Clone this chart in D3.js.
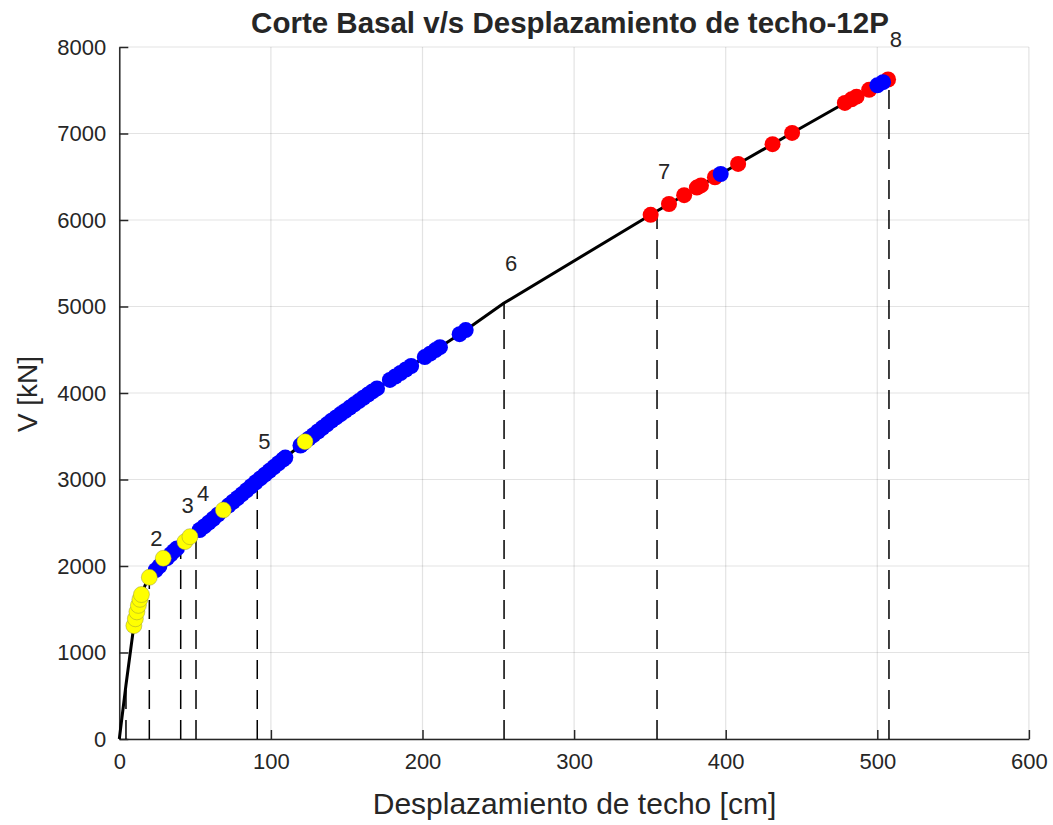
<!DOCTYPE html>
<html>
<head>
<meta charset="utf-8">
<script src="https://cdn.jsdelivr.net/npm/d3@7/dist/d3.min.js"></script>
<style>
  html, body { margin: 0; padding: 0; background: #ffffff; }
  svg text { font-family: "Liberation Sans", Arial, Helvetica, sans-serif; fill: #262626; }
</style>
</head>
<body>
<svg id="chart" width="1053" height="825"></svg>
<script>
// Pushover curve: roof displacement [cm] vs base shear [kN]
const curveX = [0, 4.4, 9.4, 11, 13, 15, 17.1, 19.8, 25, 30, 35, 40.5, 50.6, 60, 68.4, 80, 91, 100, 110, 122.5, 140, 165.4, 180, 200, 226.7, 253.8, 354.7, 383, 408, 443.7, 478.6, 507.7];
const curveV = [0, 624, 1283, 1420, 1570, 1690, 1780, 1867, 1972, 2062, 2155, 2243, 2382, 2515, 2647, 2815, 2983, 3115, 3260, 3437, 3680, 4000, 4168, 4398, 4705, 5040, 6104, 6393, 6647, 7006, 7353, 7630];

// Hinge states recorded along the curve
const yellowX = [9.6, 10.6, 11.6, 12.6, 13.6, 14.6, 19.8, 29.0, 43.3, 46.6, 68.6, 122.5];
const yellowV = [1310, 1390, 1470, 1545, 1615, 1670, 1869, 2089, 2281, 2339, 2647, 3437];

const blueX = [24, 26.5, 31.5, 34, 36, 38, 53, 56, 59, 62, 65, 72, 75, 78, 81, 84, 87, 90, 93, 96, 99, 102, 105, 108, 109.5,
               119.5, 121, 125, 128, 131, 134, 137, 140, 143, 146, 149, 152, 155, 158, 161, 164, 167, 170,
               178.5, 182, 185.5, 189, 192.5, 201.5, 205, 208.5, 211.5, 224.5, 228.5, 396.7, 500.0, 503.8];
const blueV = [1952, 1999, 2090, 2136, 2171, 2203, 2416, 2458, 2501, 2546, 2593, 2699, 2743, 2786, 2830, 2876, 2922, 2968, 3012, 3056, 3100, 3144, 3188, 3231, 3253,
               3393, 3416, 3472, 3513, 3555, 3597, 3638, 3680, 3718, 3756, 3793, 3831, 3869, 3907, 3945, 3982, 4018, 4053,
               4151, 4191, 4231, 4272, 4312, 4415, 4455, 4496, 4530, 4680, 4727, 6532, 7557, 7593];

const redX = [350.5, 362.6, 372.6, 381.0, 383.7, 392.9, 408.2, 430.9, 443.8, 478.6, 483.0, 486.3, 494.6, 507.1];
const redV = [6060, 6185, 6287, 6375, 6400, 6494, 6648, 6877, 7007, 7353, 7395, 7426, 7505, 7624];

// Performance steps marked with vertical dashed lines
const stepX = [4.4, 19.8, 40.5, 50.6, 91.0, 253.8, 354.7, 507.7];
const stepV = [624, 1867, 2243, 2382, 2983, 5040, 6104, 7630];
const stepLabels = ["", "2", "3", "4", "5", "6", "7", "8"];

const xTicks = [0, 100, 200, 300, 400, 500, 600];
const yTicks = [0, 1000, 2000, 3000, 4000, 5000, 6000, 7000, 8000];

const titleText = "Corte Basal v/s Desplazamiento de techo-12P";
const xLabel = "Desplazamiento de techo [cm]";
const yLabel = "V [kN]";

const svg = d3.select("#chart");
svg.append("rect").attr("width", 1053).attr("height", 825).attr("fill", "#ffffff");

const x = d3.scaleLinear().domain([0, 600]).range([119.3, 1028.9]);
const y = d3.scaleLinear().domain([0, 8000]).range([739, 47]);

const axisColor = "#262626";

// grid
const grid = svg.append("g");
grid.selectAll("line.gx").data(xTicks).join("line")
  .attr("x1", d => x(d)).attr("x2", d => x(d))
  .attr("y1", y(0)).attr("y2", y(8000))
  .attr("stroke", axisColor).attr("stroke-opacity", 0.13).attr("stroke-width", 1.2);
grid.selectAll("line.gy").data(yTicks).join("line")
  .attr("y1", d => y(d)).attr("y2", d => y(d))
  .attr("x1", x(0)).attr("x2", x(600))
  .attr("stroke", axisColor).attr("stroke-opacity", 0.13).attr("stroke-width", 1.2);

// axes (ticks point inward)
const fmt = d3.format("d");
const gx = svg.append("g").attr("transform", `translate(0,${y(0)})`)
  .call(d3.axisBottom(x).tickValues(xTicks).tickFormat(fmt).tickSize(-9).tickSizeOuter(0).tickPadding(14));
const gy = svg.append("g").attr("transform", `translate(${x(0)},0)`)
  .call(d3.axisLeft(y).tickValues(yTicks).tickFormat(fmt).tickSize(-9).tickSizeOuter(0).tickPadding(13));
[gx, gy].forEach(g => {
  g.select(".domain").attr("stroke", axisColor).attr("stroke-width", 1.5);
  g.selectAll(".tick line").attr("stroke", axisColor).attr("stroke-width", 1.5);
  g.selectAll(".tick text").attr("font-size", 22).attr("fill", axisColor)
    .style("font-family", "'Liberation Sans', Arial, sans-serif");
});

// dashed step lines
svg.append("g").selectAll("line").data(stepX).join("line")
  .attr("x1", d => x(d)).attr("x2", d => x(d))
  .attr("y1", y(0)).attr("y2", (d, i) => y(stepV[i]))
  .attr("stroke", "#000").attr("stroke-width", 1.5)
  .attr("stroke-dasharray", "19,11");

// pushover curve
const line = d3.line().x(d => x(d[0])).y(d => y(d[1]));
svg.append("path")
  .datum(curveX.map((v, i) => [v, curveV[i]]))
  .attr("d", line)
  .attr("fill", "none").attr("stroke", "#000").attr("stroke-width", 3)
  .attr("stroke-linejoin", "round");

// step labels
svg.append("g").selectAll("text").data(stepX).join("text")
  .attr("x", d => x(d) + 7)
  .attr("y", (d, i) => y(stepV[i]) - 32)
  .attr("text-anchor", "middle")
  .attr("font-size", 22)
  .attr("fill", "#000")
  .text((d, i) => stepLabels[i]);

// hinge markers
function markers(xs, vs, color, stroke) {
  svg.append("g").selectAll("circle").data(xs).join("circle")
    .attr("cx", d => x(d)).attr("cy", (d, i) => y(vs[i]))
    .attr("r", 8)
    .attr("fill", color)
    .attr("stroke", stroke || "none")
    .attr("stroke-width", stroke ? 0.8 : 0);
}
markers(redX, redV, "#ff0000");
markers(blueX, blueV, "#0000ff");
markers(yellowX, yellowV, "#ffff00", "rgba(140,140,60,0.55)");

// title and axis labels
svg.append("text").attr("x", 570).attr("y", 33).attr("text-anchor", "middle")
  .attr("font-size", 29.5).attr("font-weight", "bold").attr("fill", "#000").text(titleText);
svg.append("text").attr("x", 574.5).attr("y", 814).attr("text-anchor", "middle")
  .attr("font-size", 30).text(xLabel);
svg.append("text").attr("transform", "translate(37,394) rotate(-90)").attr("text-anchor", "middle")
  .attr("font-size", 28).text(yLabel);
</script>
</body>
</html>
